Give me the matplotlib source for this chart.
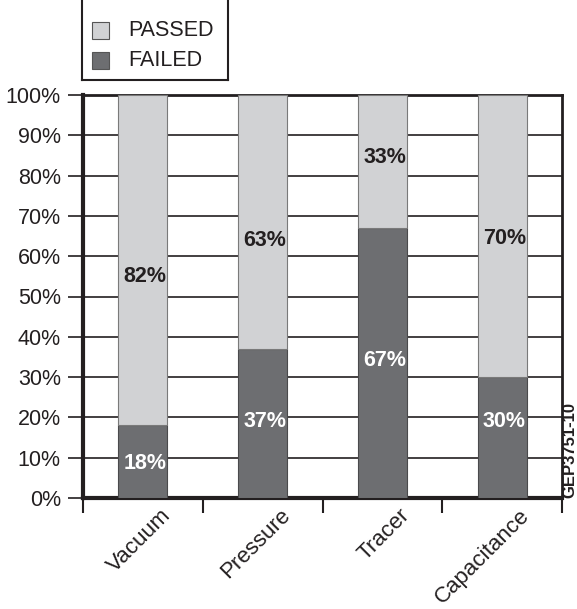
import matplotlib
matplotlib.use("Agg")
import matplotlib.pyplot as plt
import matplotlib.transforms as mtransforms
from matplotlib.patches import Rectangle
from matplotlib.lines import Line2D

plt.rcParams['font.family'] = ['Liberation Sans', 'DejaVu Sans']

# data
methods = ["Vacuum", "Pressure", "Tracer", "Capacitance"]
failed = [18, 37, 67, 30]
passed = [82, 63, 33, 70]
yticks = [0, 10, 20, 30, 40, 50, 60, 70, 80, 90, 100]

# label heights (in % units) as they sit in the original
passed_label_y = [55, 64, 84.5, 64.5]
failed_label_y = [8.5, 19, 34, 19]

c_pass = "#d1d2d4"
c_fail = "#6d6e71"
ink = "#231f20"
fs = 15.5

W, H = 577, 609
fig = plt.figure(figsize=(W / 100, H / 100), dpi=100)
ax = fig.add_axes([83 / W, 1 - 498 / H, 479 / W, 403 / H])

x = list(range(len(methods)))
ax.bar(x, failed, width=0.41, color=c_fail, edgecolor="#4a4a4c", linewidth=0.8, zorder=3)
ax.bar(x, passed, bottom=failed, width=0.41, color=c_pass, edgecolor="#7a7a7a", linewidth=0.8, zorder=3)

for i in x:
    ax.text(i + 0.02, passed_label_y[i], f"{passed[i]}%", ha="center", va="center",
            fontsize=fs, fontweight="bold", color=ink, zorder=4)
    ax.text(i + 0.02, failed_label_y[i], f"{failed[i]}%", ha="center", va="center",
            fontsize=fs, fontweight="bold", color="white", zorder=4)

ax.set_xlim(-0.5, 3.5)
ax.set_ylim(0, 100)
ax.set_yticks(yticks)
ax.set_yticklabels([f"{v}%" for v in yticks], fontsize=fs, color=ink)
for v in yticks[1:-1]:
    ax.axhline(v, color=ink, linewidth=1.2, zorder=1)

# category boundary ticks on x
ax.set_xticks([-0.5, 0.5, 1.5, 2.5, 3.5])
ax.set_xticklabels([])
ax.tick_params(axis="x", direction="out", length=11, width=1.5, color=ink)
ax.tick_params(axis="y", direction="out", length=11, width=1.2, color=ink, pad=5)

# rotated category names
offset = mtransforms.ScaledTranslation(17 / 100, -7 / 100, fig.dpi_scale_trans)
for i, name in enumerate(methods):
    ax.text(i, 0, name, rotation=45, ha="right", va="top", rotation_mode="anchor",
            fontsize=16, color=ink,
            transform=ax.get_xaxis_transform() + offset)

for side, lw in [("left", 3), ("bottom", 3), ("top", 2), ("right", 2)]:
    ax.spines[side].set_linewidth(lw)
    ax.spines[side].set_color(ink)


# legend box (top edge runs off the figure)
def fx(px):
    return px / W


def fy(py):
    return 1 - py / H


for (x0, y0, x1, y1) in [(82.5, -5, 82.5, 80), (227.5, -5, 227.5, 80), (82.5, 80, 227.5, 80)]:
    fig.add_artist(Line2D([fx(x0), fx(x1)], [fy(y0), fy(y1)], color=ink, linewidth=1.5))
for py, col, lab in [(30, c_pass, "PASSED"), (60, c_fail, "FAILED")]:
    fig.add_artist(Rectangle((fx(92), fy(py + 8.5)), 17 / W, 17 / H, facecolor=col,
                             edgecolor="#555555", linewidth=0.8, transform=fig.transFigure))
    fig.text(fx(128), fy(py), lab, ha="left", va="center", fontsize=fs, color=ink)

fig.text(fx(569.5), fy(498), "GEP3751-10", rotation=90, ha="center", va="bottom",
         fontsize=12, fontweight="bold", color=ink)

fig.savefig("out.png", dpi=100)
